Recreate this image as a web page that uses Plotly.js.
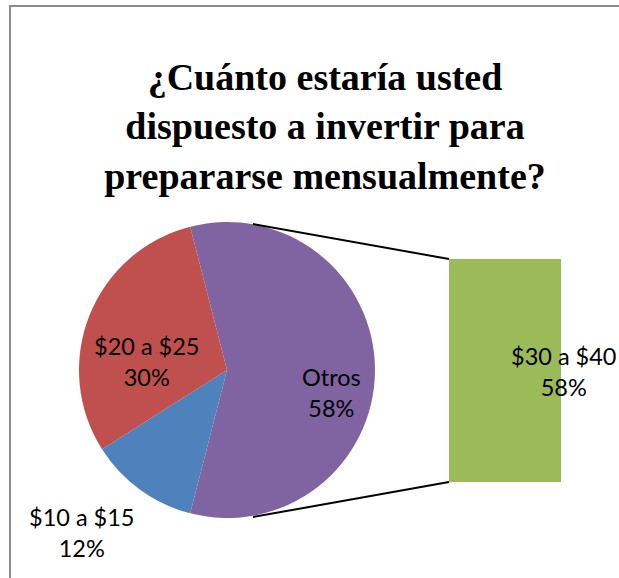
<!DOCTYPE html>
<html>
<head>
<meta charset="utf-8">
<script src="https://cdn.plot.ly/plotly-3.0.1.min.js"></script>
<style>html,body{margin:0;padding:0;background:#fff;}#chart{width:619px;height:578px;}</style>
</head>
<body>
<div id="chart"></div>
<script>
// Data
var pieLabels = ['Otros', '$10 a $15', '$20 a $25'];
var pieValues = [58, 12, 30];
var pieColors = ['#8064A2', '#4F81BD', '#C0504D'];
var barCategories = ['$30 a $40'];
var barValues = [58];
var barColors = ['#9BBB59'];
var titleText = '¿Cuánto estaría usted<br>dispuesto a invertir para<br>prepararse mensualmente?';

var W = 619, H = 578;
function px(x) { return x / W; }
function py(y) { return 1 - y / H; }

var total = pieValues.reduce(function (a, b) { return a + b; }, 0);
// Excel bar-of-pie: "Otros" slice centred at 3 o'clock
var rotation = 90 - (pieValues[0] / total) * 180;

function pct(v) { return Math.round(v / total * 100) + '%'; }

var pie = {
  type: 'pie',
  labels: pieLabels,
  values: pieValues,
  sort: false,
  direction: 'clockwise',
  rotation: rotation,
  marker: { colors: pieColors, line: { width: 0 } },
  textinfo: 'none',
  hoverinfo: 'label+percent',
  showlegend: false,
  domain: { x: [px(227 - 148), px(227 + 148)], y: [py(370 + 148), py(370 - 148)] }
};

var bar = {
  type: 'bar',
  x: barCategories,
  y: barValues,
  marker: { color: barColors, line: { width: 0 } },
  hoverinfo: 'x+y',
  showlegend: false,
  xaxis: 'x',
  yaxis: 'y'
};

var labelFont = { family: 'Lato, "Liberation Sans", sans-serif', size: 23.5, color: '#000' };

var annotations = [
  { text: pieLabels[0] + '<br>' + pct(pieValues[0]), x: px(331), y: py(392) },
  { text: pieLabels[1] + '<br>' + pct(pieValues[1]), x: px(82), y: py(532) },
  { text: pieLabels[2] + '<br>' + pct(pieValues[2]), x: px(147), y: py(361) },
  { text: barCategories[0] + '<br>' + pct(barValues[0]), x: px(564), y: py(371) }
].map(function (a) {
  return Object.assign({
    xref: 'paper', yref: 'paper', xanchor: 'center', yanchor: 'middle',
    showarrow: false, font: labelFont, align: 'center'
  }, a);
});

var layout = {
  width: W, height: H,
  margin: { l: 0, r: 0, t: 0, b: 0 },
  paper_bgcolor: '#fff', plot_bgcolor: 'rgba(0,0,0,0)',
  title: {
    text: titleText,
    font: { family: '"Liberation Serif", "Times New Roman", serif', size: 38, color: '#000', weight: 'bold' },
    x: px(325), xanchor: 'center', xref: 'paper',
    y: py(90), yanchor: 'middle', yref: 'paper'
  },
  xaxis: { domain: [px(449), px(561)], range: [-0.5, 0.5], visible: false, fixedrange: true },
  yaxis: { domain: [py(482), py(259)], range: [0, barValues[0]], visible: false, fixedrange: true },
  bargap: 0,
  annotations: annotations,
  shapes: [
    { type: 'rect', xref: 'paper', yref: 'paper', x0: px(10), y0: py(800), x1: px(900), y1: py(6),
      line: { color: '#8C8C8C', width: 2 }, fillcolor: 'rgba(0,0,0,0)' },
    { type: 'line', xref: 'paper', yref: 'paper', x0: px(253), y0: py(224), x1: px(449), y1: py(259),
      line: { color: '#000', width: 2 } },
    { type: 'line', xref: 'paper', yref: 'paper', x0: px(253), y0: py(517), x1: px(449), y1: py(482),
      line: { color: '#000', width: 2 } }
  ]
};

Plotly.newPlot('chart', [pie, bar], layout, { displayModeBar: false, staticPlot: true });
</script>
</body>
</html>
